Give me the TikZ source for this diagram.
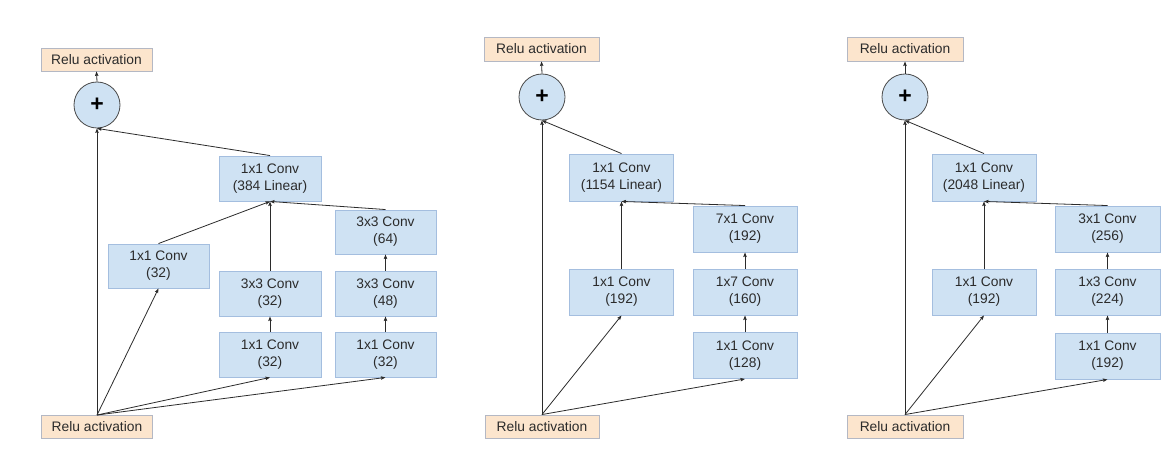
\documentclass[tikz,border=0pt]{standalone}
\usepackage{fontspec}
\setmainfont{Liberation Sans}
\usetikzlibrary{arrows.meta}
\definecolor{convfill}{HTML}{CFE2F3}
\definecolor{convline}{HTML}{A4BEDF}
\definecolor{relufill}{HTML}{FCE5CD}
\definecolor{reluline}{HTML}{B4B8C4}
\definecolor{ink}{HTML}{2B2B2B}
\begin{document}
\begin{tikzpicture}[x=1pt,y=-1pt,
  conv/.style={draw=convline,fill=convfill,line width=0.9pt,minimum width=102pt,minimum height=45pt,
    align=center,inner sep=0pt,text=ink,font=\fontsize{13.8}{16.8}\selectfont},
  relu/.style={draw=reluline,fill=relufill,line width=0.9pt,minimum width=#1,minimum height=23pt,
    inner sep=0pt,text=ink,font=\fontsize{13.8}{16}\selectfont},
  relu/.default=111pt,
  plus/.style={circle,draw=ink!85,fill=convfill,line width=0.8pt,minimum size=46pt,inner sep=0pt,
    font=\fontsize{23}{23}\selectfont\bfseries},
  link/.style={draw=ink,line width=0.8pt},
  arr/.style={link,-{Stealth[length=4.5pt,width=3.4pt,inset=0.6pt]}}]
\useasboundingbox (0,0) rectangle (1176,465);

% ---------- block A: 35x35 grid ----------
\node[relu] (a-out) at (96.5,59.5) {Relu activation};
\node[plus] (a-sum) at (97,105) {+};
\node[conv] (a-lin) at (270,178.5) {1x1 Conv\\(384 Linear)};
\node[conv,minimum width=101pt,minimum height=44pt] (a-b1) at (158.5,266) {1x1 Conv\\(32)};
\node[conv] (a-b2a) at (270,354.5) {1x1 Conv\\(32)};
\node[conv] (a-b2b) at (270,293.5) {3x3 Conv\\(32)};
\node[conv,minimum width=101pt] (a-b3a) at (385.5,354.5) {1x1 Conv\\(32)};
\node[conv,minimum width=101pt] (a-b3b) at (385.5,293.5) {3x3 Conv\\(48)};
\node[conv,minimum width=101pt,minimum height=44pt] (a-b3c) at (385.5,232) {3x3 Conv\\(64)};
\node[relu] (a-in) at (97,427) {Relu activation};

\draw[arr] (a-in.north) -- (a-sum.south);
\draw[arr] (a-in.north) -- (a-b1.south);
\draw[arr] (a-in.north) -- (a-b2a.south);
\draw[arr] (a-in.north) -- (a-b3a.south);
\draw[arr] (a-b2a.north) -- (a-b2b.south);
\draw[arr] (a-b3a.north) -- (a-b3b.south);
\draw[arr] (a-b3b.north) -- (a-b3c.south);
\draw[arr] (a-b1.north) -- (a-lin.south);
\draw[arr] (a-b2b.north) -- (a-lin.south);
\draw[arr] (a-b3c.north) -- (a-lin.south);
\draw[arr] (a-lin.north) -- (a-sum.south);
\draw[arr] (a-sum.north) -- (a-out.south);

% ---------- block B: 17x17 grid ----------
\node[relu=115pt,minimum height=24pt] (b-out) at (541.5,49) {Relu activation};
\node[plus] (b-sum) at (542,97) {+};
\node[conv,minimum width=104pt,minimum height=47pt] (b-lin) at (621.5,177.5) {1x1 Conv\\(1154 Linear)};
\node[conv,minimum width=104pt,minimum height=46pt] (b-b1) at (621.5,292) {1x1 Conv\\(192)};
\node[conv,minimum width=104pt,minimum height=46pt] (b-b2a) at (745,355.5) {1x1 Conv\\(128)};
\node[conv,minimum width=104pt,minimum height=46pt] (b-b2b) at (745,292) {1x7 Conv\\(160)};
\node[conv,minimum width=104pt,minimum height=46pt] (b-b2c) at (745,229) {7x1 Conv\\(192)};
\node[relu=114pt] (b-in) at (542,426.5) {Relu activation};

\draw[arr] (b-in.north) -- (b-sum.south);
\draw[arr] (b-in.north) -- (b-b1.south);
\draw[arr] (b-in.north) -- (b-b2a.south);
\draw[arr] (b-b2a.north) -- (b-b2b.south);
\draw[arr] (b-b2b.north) -- (b-b2c.south);
\draw[arr] (b-b1.north) -- (b-lin.south);
\draw[arr] (b-b2c.north) -- (b-lin.south);
\draw[arr] (b-lin.north) -- (b-sum.south);
\draw[arr] (b-sum.north) -- (b-out.south);

% ---------- block C: 8x8 grid ----------
\node[relu=116pt,minimum height=24pt] (c-out) at (905,49) {Relu activation};
\node[plus] (c-sum) at (905,97) {+};
\node[conv,minimum width=104pt,minimum height=47pt] (c-lin) at (984,177.5) {1x1 Conv\\(2048 Linear)};
\node[conv,minimum width=104pt,minimum height=46pt] (c-b1) at (984,292) {1x1 Conv\\(192)};
\node[conv,minimum width=105pt,minimum height=46pt] (c-b2a) at (1107.5,356) {1x1 Conv\\(192)};
\node[conv,minimum width=105pt,minimum height=46pt] (c-b2b) at (1107.5,292) {1x3 Conv\\(224)};
\node[conv,minimum width=105pt,minimum height=46pt] (c-b2c) at (1107.5,229) {3x1 Conv\\(256)};
\node[relu=116pt] (c-in) at (905,426.5) {Relu activation};

\draw[arr] (c-in.north) -- (c-sum.south);
\draw[arr] (c-in.north) -- (c-b1.south);
\draw[arr] (c-in.north) -- (c-b2a.south);
\draw[arr] (c-b2a.north) -- (c-b2b.south);
\draw[arr] (c-b2b.north) -- (c-b2c.south);
\draw[arr] (c-b1.north) -- (c-lin.south);
\draw[arr] (c-b2c.north) -- (c-lin.south);
\draw[arr] (c-lin.north) -- (c-sum.south);
\draw[arr] (c-sum.north) -- (c-out.south);
\end{tikzpicture}
\end{document}
